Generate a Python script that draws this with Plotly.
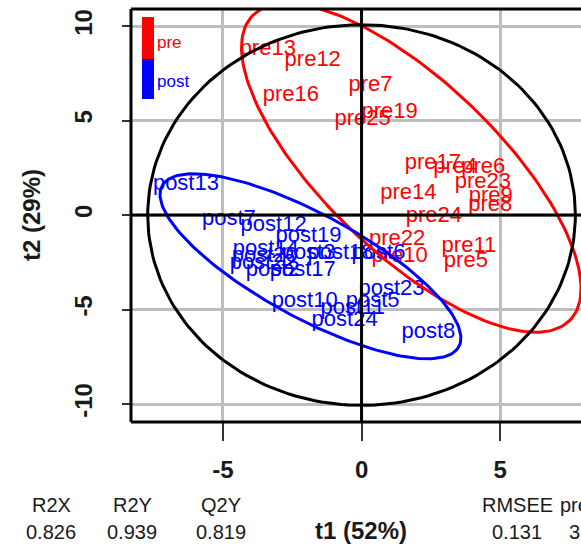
import numpy as np
import plotly.graph_objects as go

# ---------------- data ----------------
pre_labels = ["pre13", "pre12", "pre16", "pre7", "pre19", "pre25", "pre17", "pre4", "pre6",
              "pre23", "pre14", "pre9", "pre8", "pre24", "pre22", "pre10", "pre11", "pre5"]
pre_t1 = [-3.38, -1.76, -2.55, 0.32, 1.01, 0.04, 2.57, 3.38, 4.39,
          4.37, 1.69, 4.66, 4.64, 2.61, 1.28, 1.37, 3.87, 3.76]
pre_t2 = [8.78, 8.20, 6.30, 6.83, 5.40, 5.03, 2.75, 2.49, 2.54,
          1.71, 1.16, 0.97, 0.49, -0.09, -1.32, -2.21, -1.68, -2.47]

post_labels = ["post13", "post7", "post12", "post19", "post14", "post20", "post22", "post2",
               "post17", "post3", "post18", "post6", "post23", "post10", "post5", "post11",
               "post24", "post8"]
post_t1 = [-6.33, -4.78, -3.17, -1.91, -3.45, -3.49, -3.56, -3.20,
           -2.12, -1.91, -0.76, 0.61, 1.08, -2.05, 0.40, -0.32, -0.61, 2.41]
post_t2 = [1.59, -0.26, -0.58, -1.16, -1.80, -2.22, -2.54, -2.96,
           -2.96, -2.06, -2.06, -2.01, -3.92, -4.55, -4.55, -4.97, -5.56, -6.24]

group_names = ["pre", "post"]

x_tick_vals = [-5, 0, 5]
x_tick_text = ["-5", "0", "5"]
y_tick_vals = [-10, -5, 0, 5, 10]
y_tick_text = ["-10", "-5", "0", "5", "10"]

x_title = "t1 (52%)"
y_title = "t2 (29%)"

summary_names = ["R2X", "R2Y", "Q2Y", "RMSEE", "pre"]
summary_values = ["0.826", "0.939", "0.819", "0.131", "3"]

# ---------------- styling / layout constants ----------------
W, H = 581, 546
L, R, T, B = 131, 0, 9, 124          # plot area in px: x 131..581, y 9..422
X_RANGE = [-8.31, 7.91]
Y_RANGE = [-10.95, 10.90]
RED, BLUE = "#FF0000", "#0000FF"
FONT = "Liberation Sans, Arial, sans-serif"
TXT = "#1a1a1a"

pw, ph = W - L - R, H - T - B


def px_to_paper(px, py):
    return (px - L) / pw, (H - B - py) / ph


def group_ellipse(x, y, prob=0.95, n_pts=201):
    """Confidence ellipse of a group (chi-square radius)."""
    x = np.asarray(x, float)
    y = np.asarray(y, float)
    m = np.array([x.mean(), y.mean()])
    cov = np.cov(np.vstack([x, y]))
    vals, vecs = np.linalg.eigh(cov)
    r = np.sqrt(-2.0 * np.log(1.0 - prob))
    th = np.linspace(0, 2 * np.pi, n_pts)
    circ = np.vstack([np.cos(th), np.sin(th)])
    pts = vecs @ (np.sqrt(vals)[:, None] * circ) * r + m[:, None]
    return pts[0], pts[1]


def hotelling_ellipse(x, y, prob=0.95, n_pts=201):
    """Hotelling T2 ellipse of all scores, centred on the origin."""
    x = np.asarray(x, float)
    y = np.asarray(y, float)
    n = len(x)
    m = n - 2
    qf = m / 2.0 * ((1.0 - prob) ** (-2.0 / m) - 1.0)   # F(2, n-2) quantile
    hot = (n - 1) * 2 * (n ** 2 - 1) / (n ** 2 * (n - 2)) * qf
    rad = np.sqrt(hot)
    th = np.linspace(0, 2 * np.pi, n_pts)
    return rad * np.std(x, ddof=1) * np.cos(th), rad * np.std(y, ddof=1) * np.sin(th)


fig = go.Figure()

# sample labels (text at the score position)
fig.add_trace(go.Scatter(x=pre_t1, y=pre_t2, text=pre_labels, mode="text",
                         textfont=dict(color=RED, size=22, family=FONT),
                         textposition="middle center", showlegend=False, hoverinfo="text"))
fig.add_trace(go.Scatter(x=post_t1, y=post_t2, text=post_labels, mode="text",
                         textfont=dict(color=BLUE, size=22, family=FONT),
                         textposition="middle center", showlegend=False, hoverinfo="text"))

# group ellipses
ex, ey = group_ellipse(pre_t1, pre_t2)
fig.add_trace(go.Scatter(x=ex, y=ey, mode="lines", line=dict(color=RED, width=3),
                         showlegend=False, hoverinfo="skip"))
ex, ey = group_ellipse(post_t1, post_t2)
fig.add_trace(go.Scatter(x=ex, y=ey, mode="lines", line=dict(color=BLUE, width=3),
                         showlegend=False, hoverinfo="skip"))

# Hotelling ellipse
hx, hy = hotelling_ellipse(pre_t1 + post_t1, pre_t2 + post_t2)
fig.add_trace(go.Scatter(x=hx, y=hy, mode="lines", line=dict(color="black", width=3),
                         showlegend=False, hoverinfo="skip"))

shapes = []
# zero axes (drawn on top)
shapes.append(dict(type="line", xref="x", yref="paper", x0=0, x1=0, y0=0, y1=1,
                   line=dict(color="black", width=3), layer="above"))
shapes.append(dict(type="line", xref="paper", yref="y", x0=0, x1=1, y0=0, y1=0,
                   line=dict(color="black", width=3), layer="above"))
# frame: left, top, bottom (right edge lies outside the window)
shapes.append(dict(type="line", xref="paper", yref="paper", x0=0, x1=0, y0=0, y1=1,
                   line=dict(color="black", width=3), layer="above"))
shapes.append(dict(type="line", xref="paper", yref="paper", x0=0, x1=1, y0=1, y1=1,
                   line=dict(color="black", width=3), layer="above"))
shapes.append(dict(type="line", xref="paper", yref="paper", x0=0, x1=1, y0=0, y1=0,
                   line=dict(color="black", width=3), layer="above"))

# colour key (top-left)
kx0, _ = px_to_paper(142, 0)
kx1, _ = px_to_paper(154, 0)
_, k_top = px_to_paper(0, 17)
_, k_mid = px_to_paper(0, 59)
_, k_bot = px_to_paper(0, 99)
shapes.append(dict(type="rect", xref="paper", yref="paper", x0=kx0, x1=kx1, y0=k_mid, y1=k_top,
                   fillcolor=RED, line=dict(width=0), layer="above"))
shapes.append(dict(type="rect", xref="paper", yref="paper", x0=kx0, x1=kx1, y0=k_bot, y1=k_mid,
                   fillcolor=BLUE, line=dict(width=0), layer="above"))

annotations = []
for name, col, py in zip(group_names, [RED, BLUE], [43, 82]):
    ax, ay = px_to_paper(155, py)
    annotations.append(dict(text=name, xref="paper", yref="paper", x=ax, y=ay,
                            xanchor="left", yanchor="middle", showarrow=False,
                            font=dict(color=col, size=17, family=FONT)))

# axis titles
ax, ay = px_to_paper(361, 530)
annotations.append(dict(text="<b>" + x_title + "</b>", xref="paper", yref="paper", x=ax, y=ay,
                        xanchor="center", yanchor="middle", showarrow=False,
                        font=dict(color=TXT, size=24, family=FONT)))
ax, ay = px_to_paper(31, 215)
annotations.append(dict(text="<b>" + y_title + "</b>", xref="paper", yref="paper", x=ax, y=ay,
                        xanchor="center", yanchor="middle", showarrow=False, textangle=-90,
                        font=dict(color=TXT, size=24, family=FONT)))

# model summary
summary_x = [51, 132, 221, 517, 574]
for nm, val, sx in zip(summary_names, summary_values, summary_x):
    ax, ay = px_to_paper(sx, 505)
    annotations.append(dict(text=nm, xref="paper", yref="paper", x=ax, y=ay,
                            xanchor="center", yanchor="middle", showarrow=False,
                            font=dict(color=TXT, size=20, family=FONT)))
    ax, ay = px_to_paper(sx, 532)
    annotations.append(dict(text=val, xref="paper", yref="paper", x=ax, y=ay,
                            xanchor="center", yanchor="middle", showarrow=False,
                            font=dict(color=TXT, size=20, family=FONT)))

fig.update_layout(
    width=W, height=H,
    margin=dict(l=L, r=R, t=T, b=B, pad=0),
    paper_bgcolor="white", plot_bgcolor="white",
    shapes=shapes, annotations=annotations,
    showlegend=False,
    xaxis=dict(range=X_RANGE, tickvals=x_tick_vals, ticktext=x_tick_text,
               showgrid=True, gridcolor="#BEBEBE", gridwidth=3, zeroline=False,
               showline=False, ticks="outside", ticklen=18, tickwidth=2, tickcolor="#333",
               tickfont=dict(size=24, family=FONT, color=TXT, weight="bold"),
               ticklabelstandoff=8, fixedrange=True),
    yaxis=dict(range=Y_RANGE, tickvals=y_tick_vals, ticktext=y_tick_text,
               showgrid=True, gridcolor="#BEBEBE", gridwidth=3, zeroline=False,
               showline=False, ticks="outside", ticklen=8, tickwidth=2, tickcolor="#333",
               tickangle=-90,
               tickfont=dict(size=24, family=FONT, color=TXT, weight="bold"),
               ticklabelstandoff=20, fixedrange=True),
)

fig.write_html("out.html", config={"displayModeBar": False})

# remove the browser's default page margin so the figure sits at the window's corner
with open("out.html", "r", encoding="utf-8") as fh:
    html = fh.read()
html = html.replace("<head>", "<head><style>html,body{margin:0;padding:0;overflow:hidden;}</style>", 1)
with open("out.html", "w", encoding="utf-8") as fh:
    fh.write(html)
